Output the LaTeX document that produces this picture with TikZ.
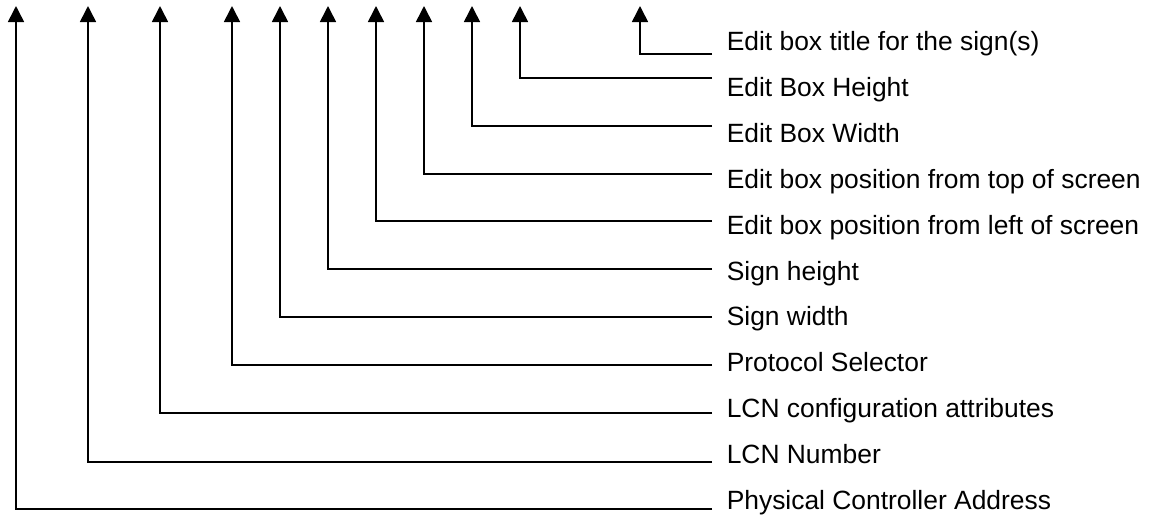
\documentclass[tikz,border=0pt]{standalone}
\usepackage{fontspec}
\setmainfont{Liberation Sans}
\usetikzlibrary{arrows.meta}

\begin{document}
\begin{tikzpicture}[->,>={Triangle[width=8pt,length=8pt]},x=0.5pt,y=-0.5pt,line width=0.8pt]
                \tikzstyle{every node}=[anchor=base west,inner sep=0pt,font=\fontsize{13.2}{16}\selectfont]
                \useasboundingbox (0,0) rectangle (1151,516);

                % labels
                \node (Tit)  at (726,50)   {Edit box title for the sign(s)};
                \node (EBH)  at (726,96)   {Edit Box Height};
                \node (EBW)  at (726,142)  {Edit Box Width};
                \node (Top)  at (726,188)  {Edit box position from top of screen};
                \node (Left) at (726,234)  {Edit box position from left of screen};
                \node (SH)   at (726,280)  {Sign height};
                \node (SW)   at (726,325)  {Sign width};
                \node (PS)   at (726,371)  {Protocol Selector};
                \node (LCA)  at (726,417)  {LCN configuration attributes};
                \node (LCN)  at (726,463)  {LCN Number};
                \node (PCA)  at (726,509)  {Physical Controller Address};

                % line ends and arrow tips
                \coordinate (Tit-e)  at (712,54);   \coordinate (Tit-a)  at (640,6);
                \coordinate (EBH-e)  at (712,78);   \coordinate (EBH-a)  at (520,6);
                \coordinate (EBW-e)  at (712,126);  \coordinate (EBW-a)  at (472,6);
                \coordinate (Top-e)  at (712,174);  \coordinate (Top-a)  at (424,6);
                \coordinate (Left-e) at (712,221);  \coordinate (Left-a) at (376,6);
                \coordinate (SH-e)   at (712,269);  \coordinate (SH-a)   at (328,6);
                \coordinate (SW-e)   at (712,317);  \coordinate (SW-a)   at (280,6);
                \coordinate (PS-e)   at (712,365);  \coordinate (PS-a)   at (232,6);
                \coordinate (LCA-e)  at (712,413);  \coordinate (LCA-a)  at (160,6);
                \coordinate (LCN-e)  at (712,462);  \coordinate (LCN-a)  at (88,6);
                \coordinate (PCA-e)  at (712,509);  \coordinate (PCA-a)  at (16,6);

                \draw (Tit-e)  -| (Tit-a);
                \draw (EBH-e)  -| (EBH-a);
                \draw (EBW-e)  -| (EBW-a);
                \draw (Top-e)  -| (Top-a);
                \draw (Left-e) -| (Left-a);
                \draw (SH-e)   -| (SH-a);
                \draw (SW-e)   -| (SW-a);
                \draw (PS-e)   -| (PS-a);
                \draw (LCA-e)  -| (LCA-a);
                \draw (LCN-e)  -| (LCN-a);
                \draw (PCA-e)  -| (PCA-a);
            \end{tikzpicture}
\end{document}
